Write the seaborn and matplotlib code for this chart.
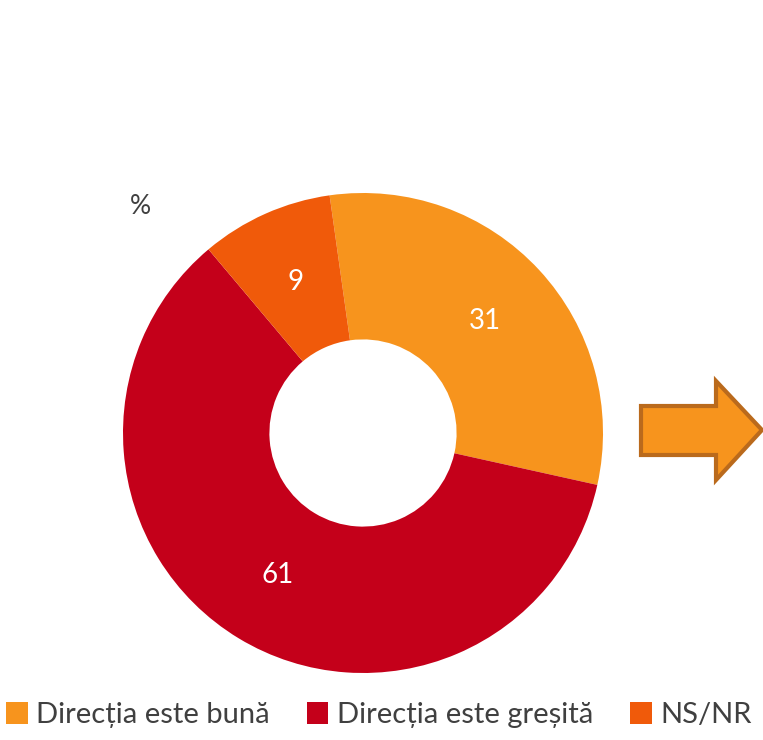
import matplotlib.pyplot as plt
import seaborn as sns
from matplotlib.patches import Patch, Polygon

# Data
categories = ["Direcția este bună", "Direcția este greșită", "NS/NR"]
values = [31, 61, 9]
colors = ["#F7941D", "#C4001A", "#F05A0A"]

sns.set_theme(style="white")
plt.rcParams["font.family"] = ["Lato", "DejaVu Sans"]

W, H = 763, 740
fig = plt.figure(figsize=(W / 100, H / 100), dpi=100)

# donut axes: centre (363, 433) px, outer radius 240 px
cx, cy, r = 363, 433, 240
ax = fig.add_axes([(cx - r) / W, (H - cy - r) / H, 2 * r / W, 2 * r / H])

total = sum(values)
wedges, texts, autotexts = ax.pie(
    values,
    colors=colors,
    startangle=98,
    counterclock=False,
    radius=1,
    wedgeprops=dict(width=0.61, edgecolor="none"),
    autopct=lambda p: f"{round(p * total / 100):d}",
    pctdistance=0.69,
    textprops=dict(color="white", fontsize=20),
)
ax.set_xlim(-1, 1)
ax.set_ylim(-1, 1)
ax.set_aspect("equal")

# overlay in pixel coordinates for the decorations
ov = fig.add_axes([0, 0, 1, 1], zorder=-1)
ov.set_xlim(0, W)
ov.set_ylim(H, 0)
ov.axis("off")

ov.text(140, 207, "%", fontsize=19, color="#404040", ha="center", va="center")

arrow = Polygon(
    [(641, 406), (716, 406), (716, 381), (762, 430), (716, 480), (716, 455), (641, 455)],
    closed=True, facecolor="#F7941D", edgecolor="#BA6A1C", linewidth=3,
)
ov.add_patch(arrow)

handles = [Patch(facecolor=c, edgecolor="none") for c in colors]
fig.legend(
    handles, categories,
    loc="center left", bbox_to_anchor=(0.0, 1 - 715 / H),
    ncol=3, frameon=False, fontsize=21,
    handlelength=0.75, handleheight=0.75, handletextpad=0.3,
    columnspacing=1.25, borderaxespad=0, borderpad=0.2,
    labelcolor="#404040",
)

fig.savefig("out.png", dpi=100)
